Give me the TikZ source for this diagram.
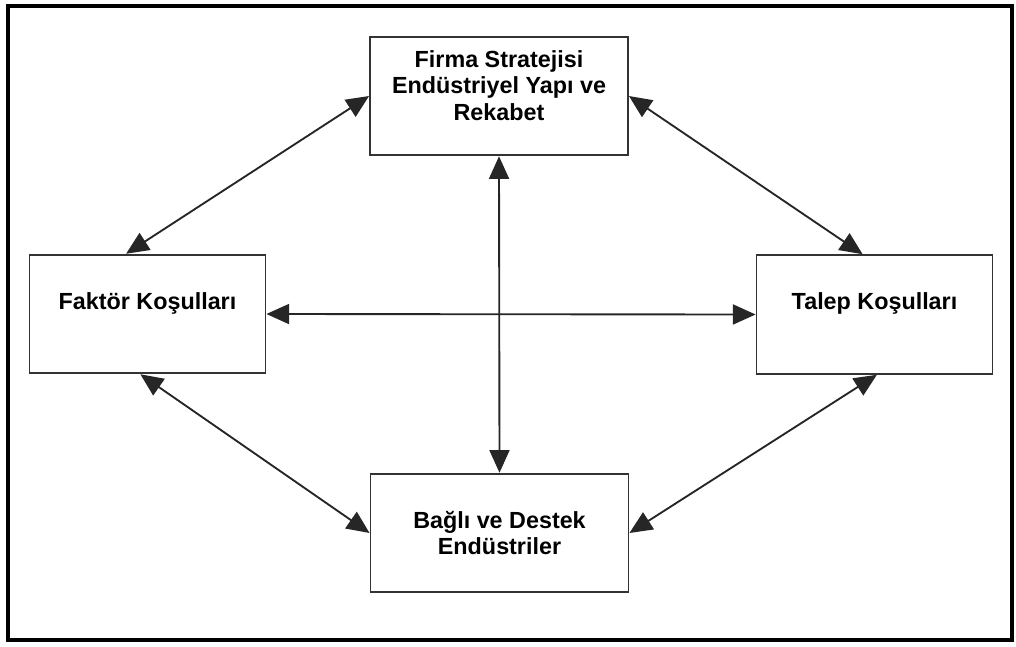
\documentclass[tikz,border=0pt]{standalone}
\usepackage{fontspec}
\setmainfont{Liberation Sans}
\usetikzlibrary{positioning}
\usetikzlibrary{calc}
\usetikzlibrary{arrows.meta}

\begin{document}
\begin{tikzpicture}[x=0.75pt,y=-0.75pt]
% définition des styles
\tikzstyle cadreporter=[draw=black,line width=2.6pt]
\tikzstyle boiteporter=[draw=black!80,line width=1.4pt,minimum width=193.5pt,minimum height=89pt,inner sep=0pt]
\tikzstyle boitecote=[boiteporter,minimum width=177pt]
\tikzstyle texteporter=[font=\fontsize{17.5}{20}\selectfont\bfseries,align=center,text=black]
\tikzstyle flecheporter=[draw=black!85,line width=1.4pt,{Triangle[length=17pt,width=15pt]}-{Triangle[length=17pt,width=15pt]}]

% le cadre
\useasboundingbox (0,0) rectangle (1016,646);
\draw[cadreporter] (8,6) rectangle (1012,640);

% les boîtes
\node[boiteporter,label={[texteporter,yshift=8pt]center:{Firma Stratejisi\\Endüstriyel Yapı ve\\Rekabet}}] (firma) at (499,96) {};
\node[boitecote,label={[texteporter,yshift=8pt]center:{Faktör Koşulları}}] (faktor) at (147.5,314) {};
\node[boitecote,label={[texteporter,yshift=8pt]center:{Talep Koşulları}}] (talep) at (874.5,314.5) {};
\node[boiteporter,label={[texteporter]center:{Bağlı ve Destek\\Endüstriler}}] (bagli) at (499.5,533) {};

% les flèches
\draw[flecheporter] (faktor.east) -- (talep.west);
\draw[flecheporter] (firma.south) -- (bagli.north);
\draw[flecheporter] (firma.west) -- ($(faktor.north west)!0.41!(faktor.north east)$);
\draw[flecheporter] (firma.east) -- ($(talep.north west)!0.45!(talep.north east)$);
\draw[flecheporter] ($(faktor.south west)!0.47!(faktor.south east)$) -- (bagli.west);
\draw[flecheporter] ($(talep.south west)!0.51!(talep.south east)$) -- (bagli.east);
\end{tikzpicture}
\end{document}
